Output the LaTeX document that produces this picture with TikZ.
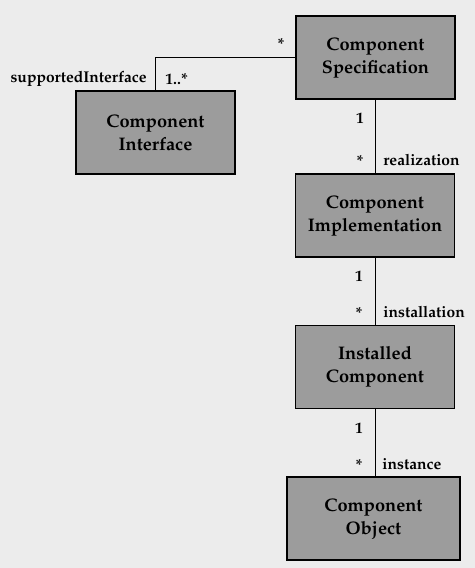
\documentclass[tikz,border=0pt]{standalone}
\usepackage[T1]{fontenc}
\usepackage{mathpazo}
\definecolor{pagegray}{HTML}{ECECEC}
\definecolor{boxgray}{HTML}{9C9C9C}
\tikzset{
    classbox/.style={draw=black, fill=boxgray, line width=0.7pt,
        minimum width=79.5pt, minimum height=41.5pt, align=center,
        font=\fontsize{9.1}{11.5}\selectfont\bfseries, inner sep=0pt},
    assoc/.style={draw=black, line width=0.5pt},
    mult/.style={font=\fontsize{7.8}{9}\selectfont\bfseries, inner sep=0pt}
}

\begin{document}
\begin{tikzpicture}[x=0.5pt, y=-0.5pt]
    \fill[pagegray] (0,0) rectangle (475,568);
    \useasboundingbox (0,0) rectangle (475,568);

    % classes
    \node[classbox] (spec) at (375.5,57.5) {Component\\Specification};
    \node[classbox] (iface) at (155.5,132.5) {Component\\Interface};
    \node[classbox] (impl) at (375,215.5) {Component\\Implementation};
    \node[classbox] (inst) at (375,367) {Installed\\Component};
    \node[classbox, minimum width=86.5pt] (obj) at (373.5,518.5) {Component\\Object};

    % associations
    \draw[assoc] (iface.north) |- (spec.west);
    \draw[assoc] (spec.south) -- (spec.south |- impl.north);
    \draw[assoc] (impl.south) -- (impl.south |- inst.north);
    \draw[assoc] (inst.south) -- (inst.south |- obj.north);

    % multiplicities and role names
    \node[mult] (m1) at (281,44) {*};
    \node[mult, anchor=east] (r1) at (147,79) {supportedInterface};
    \node[mult, anchor=west] (m2) at (165,79) {1..*};
    \node[mult] (m3) at (360,118) {1};
    \node[mult] (m4) at (360,161) {*};
    \node[mult, anchor=west] (r2) at (383,160) {realization};
    \node[mult] (m5) at (359,276) {1};
    \node[mult] (m6) at (359,313) {*};
    \node[mult, anchor=west] (r3) at (383,312) {installation};
    \node[mult] (m7) at (359,428) {1};
    \node[mult] (m8) at (359,465) {*};
    \node[mult, anchor=west] (r4) at (382,464) {instance};
\end{tikzpicture}
\end{document}
